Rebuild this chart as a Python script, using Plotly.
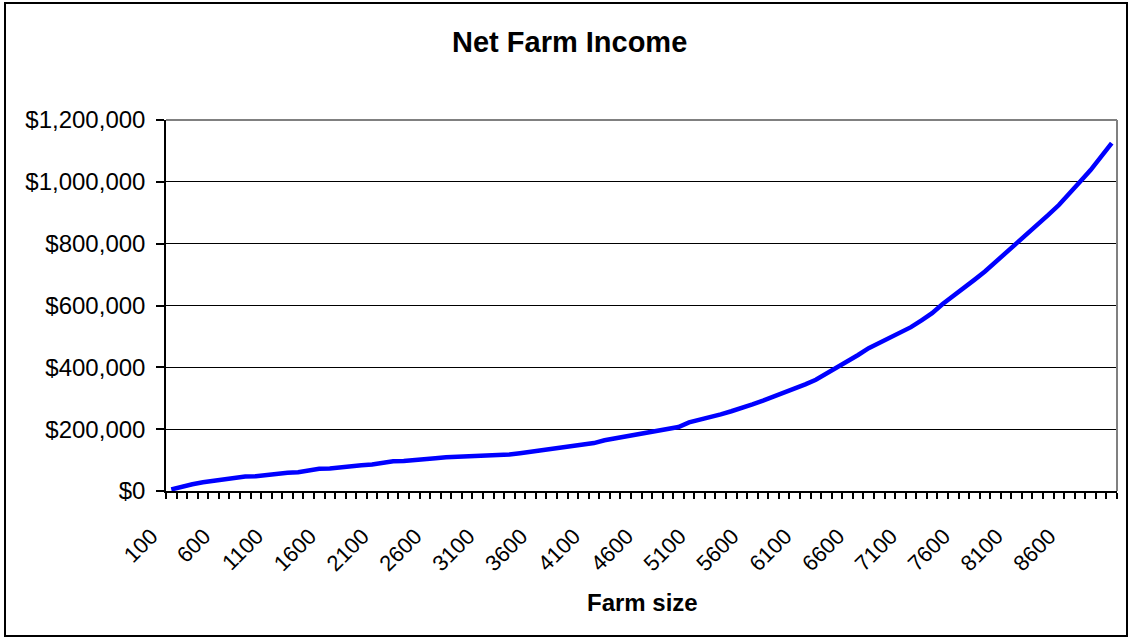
import plotly.graph_objects as go

# ---- data ----
farm_size = list(range(100, 9001, 100))  # 90 categories
net_income = [
    5000, 15000, 22000, 28000, 33000, 37000, 42000, 47000, 48000, 52000,
    57000, 59000, 61000, 66000, 72000, 73000, 77000, 82000, 83000, 86000,
    92000, 96000, 97000, 101000, 102000, 106000, 109000, 110000, 112000, 115000,
    116000, 117000, 118000, 122000, 127000, 131000, 134000, 139000, 144000, 150000,
    155000, 164000, 170000, 176000, 181000, 186000, 193000, 198000, 207000, 222000,
    230000, 238000, 248000, 258000, 268000, 280000, 292000, 305000, 318000, 330000,
    345000, 360000, 380000, 397000, 420000, 440000, 462000, 478000, 495000, 512000,
    530000, 552000, 575000, 605000, 630000, 657000, 683000, 710000, 740000, 770000,
    800000, 830000, 862000, 893000, 925000, 960000, 1000000, 1038000, 1080000, 1125000,
]
x_tickvals = list(range(100, 8601, 500))
x_ticktext = [str(v) for v in x_tickvals]
y_tickvals = [0, 200000, 400000, 600000, 800000, 1000000, 1200000]
y_ticktext = ["$0", "$200,000", "$400,000", "$600,000", "$800,000", "$1,000,000", "$1,200,000"]

FONT = "Arial, 'Liberation Sans', sans-serif"
W, H = 1130, 640
PL, PR, PT, PB = 166, 1117, 120, 491
pw, ph = PR - PL, PB - PT

def px(x):
    return (x - PL) / pw

def py(y):
    return (PB - y) / ph

fig = go.Figure()
fig.add_trace(go.Scatter(
    x=farm_size, y=net_income, mode="lines",
    line=dict(color="#0000FF", width=4.5),
    hoverinfo="skip", showlegend=False,
))

fig.update_layout(
    width=W, height=H,
    margin=dict(l=PL, r=W - PR, t=PT, b=H - PB),
    paper_bgcolor="white", plot_bgcolor="white",
    font=dict(family=FONT, color="black"),
    showlegend=False,
    xaxis=dict(
        range=[50, 9050], showgrid=False, zeroline=False,
        showline=True, linecolor="black", linewidth=1.5,
        tickmode="array", tickvals=x_tickvals, ticktext=x_ticktext,
        tickangle=-45, ticks="", tickfont=dict(size=22, family=FONT),
        ticklabelstandoff=22, ticklabelshift=-20,
        minor=dict(tick0=50, dtick=100, ticks="outside", ticklen=6,
                   tickcolor="black", tickwidth=1.5, showgrid=False),
    ),
    yaxis=dict(
        range=[0, 1200000], showgrid=True, gridcolor="black", gridwidth=1,
        zeroline=False, showline=True, linecolor="black", linewidth=1.5,
        tickmode="array", tickvals=y_tickvals, ticktext=y_ticktext,
        ticks="outside", ticklen=8, tickcolor="black", tickwidth=1.5,
        tickfont=dict(size=24, family=FONT), ticklabelstandoff=6,
    ),
    annotations=[
        dict(text="<b>Net Farm Income</b>", xref="paper", yref="paper",
             x=px(569.5), y=py(42), xanchor="center", yanchor="middle",
             showarrow=False, font=dict(size=29, family=FONT, color="black")),
        dict(text="<b>Farm size</b>", xref="paper", yref="paper",
             x=px(642), y=py(602), xanchor="center", yanchor="middle",
             showarrow=False, font=dict(size=24, family=FONT, color="black")),
    ],
    shapes=[
        dict(type="line", xref="paper", yref="paper", x0=0, x1=1, y0=1, y1=1,
             line=dict(color="#808080", width=2)),
        dict(type="line", xref="paper", yref="paper", x0=1, x1=1, y0=0, y1=1,
             line=dict(color="#808080", width=2)),
        dict(type="rect", xref="paper", yref="paper",
             x0=px(5), x1=px(1127), y0=py(636), y1=py(3),
             line=dict(color="black", width=2), fillcolor="rgba(0,0,0,0)"),
    ],
)

fig.write_html("out.html")
